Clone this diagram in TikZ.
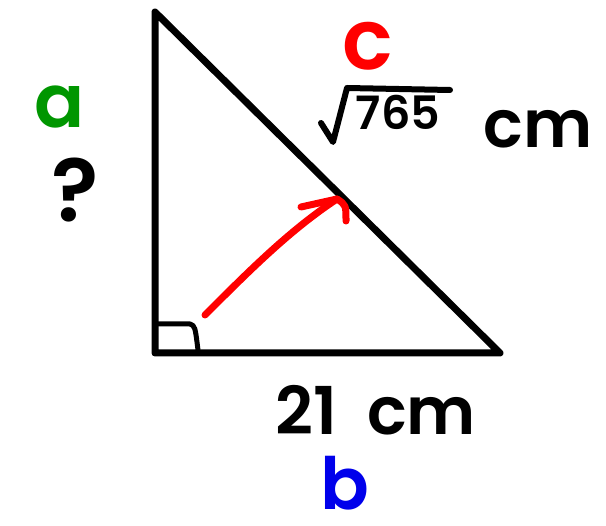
\documentclass[tikz,border=0pt]{standalone}
\usepackage{fontspec}
\setmainfont{Poppins}[BoldFont={Poppins SemiBold}]
\definecolor{hred}{RGB}{255,0,0}
\definecolor{hgreen}{RGB}{0,150,0}
\definecolor{hblue}{RGB}{0,0,235}
\begin{document}
\begin{tikzpicture}[x=1pt,y=-1pt,
  stroke/.style={line width=7pt,line cap=round,line join=round},
  lbl/.style={inner sep=0pt,anchor=base},
  fs/.style={font=\fontsize{#1}{#1}\selectfont\bfseries}]
\useasboundingbox (0,0) rectangle (606,526);
% triangle
\coordinate (A) at (155,12);
\coordinate (C) at (155,353);
\coordinate (B) at (500,353);
\draw[stroke] (A) -- (C) -- (B) -- cycle;
% right angle mark
\coordinate (r1) at (155,324);
\coordinate (r2) at (190,324);
\coordinate (r3) at (198,350);
\draw[stroke,line width=5pt] (r1) -- (r2) .. controls (195,326) .. (r3);
% red arrow
\coordinate (s) at (205,315);
\coordinate (t) at (337,199);
\coordinate (h1) at (301,207);
\coordinate (h2) at (346,221);
\draw[stroke,hred] (s) .. controls (250,270) and (290,230) .. (t);
\draw[stroke,hred] (h1) -- (t) .. controls (346,205) .. (h2);
% labels
\node[lbl,fs=84,hred] (c) at (368,70) {c};
\node[lbl,fs=74,hgreen] (a) at (60,128) {a};
\node[lbl,fs=88] (q) at (75,222) {?};
\node[lbl,fs=46] (n) at (398,130) {765};
\coordinate (rt0) at (321,123);
\coordinate (rt1) at (333,142);
\coordinate (rt2) at (347,88);
\coordinate (rt3) at (450,90);
\draw[stroke,line width=6pt] (rt0) -- (rt1) -- (rt2) -- (rt3);
\node[lbl,fs=66] (cm1) at (538,148) {cm};
\node[lbl,fs=66] (len) at (376,435) {21\hspace{0.45em}cm};
\node[lbl,fs=72,hblue] (b) at (345,510) {b};
\end{tikzpicture}
\end{document}
